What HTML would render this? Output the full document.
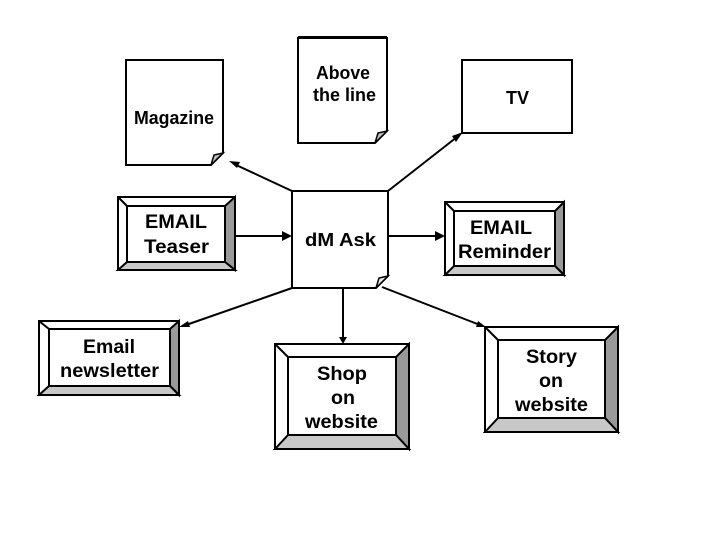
<!DOCTYPE html>
<html>
<head>
<meta charset="utf-8">
<style>
html,body{margin:0;padding:0;background:#fff;}
svg{display:block;}
text{font-family:"Liberation Sans",Arial,sans-serif;font-size:19.500px;font-weight:bold;fill:#000;}
text.s{font-size:18px;}
.l{stroke:#000;stroke-width:2;fill:none;}
.h{fill:#000;stroke:none;}
.b{stroke:#000;stroke-width:2;}
.f{fill:#fff;stroke:#000;stroke-width:2;}
</style>
</head>
<body>
<svg width="720" height="540" viewBox="0 0 720 540" xmlns="http://www.w3.org/2000/svg">
<!-- connectors -->
<path class="l" d="M292 191L234 164"/><polygon class="h" points="229,161 240,162 237,168"/>
<path class="l" d="M388 191L457 137"/><polygon class="h" points="463,132 456,142 452,136"/>
<path class="l" d="M292 288L186 325"/><polygon class="h" points="179,327 188,321 190,327"/>
<path class="l" d="M343 288V338"/><polygon class="h" points="343,344 339,337 347,337"/>
<path class="l" d="M382 287L480 325"/><polygon class="h" points="486,327 476,327 478,321"/>
<path class="l" d="M235 236H285"/><polygon class="h" points="292,236 282,231 282,241"/>
<path class="l" d="M388 236H438"/><polygon class="h" points="445,236 435,231 435,241"/>

<!-- note shapes -->
<path class="f" d="M126 60H223V153L211 165H126Z"/>
<path d="M211 165L214 155L223 153Z" fill="#c0c0c0" stroke="#000" stroke-width="1.5"/>
<path class="f" d="M298 38H387V131L375 143H298Z"/>
<path d="M298 37.500H387" stroke="#000" stroke-width="3"/>
<path d="M375 143L378 133L387 131Z" fill="#c0c0c0" stroke="#000" stroke-width="1.500"/>
<rect class="f" x="462" y="60" width="110" height="73"/>
<path class="f" d="M292 191H388V276L376 288H292Z"/>
<path d="M376 288L379 278L388 276Z" fill="#e8e8e8" stroke="#000" stroke-width="1.500"/>

<!-- bevel: Teaser -->
<g class="b">
<rect x="118" y="197" width="117" height="73" fill="#fff"/>
<polygon points="235,197 225,206 225,262 235,270" fill="#999"/>
<polygon points="118,270 127,262 225,262 235,270" fill="#c8c8c8"/>
<path d="M118 197L127 206" fill="none"/>
<rect x="127" y="206" width="98" height="56" fill="#fff"/>
</g>
<!-- bevel: Reminder -->
<g class="b">
<rect x="445" y="202" width="119" height="73" fill="#fff"/>
<polygon points="564,202 555,211 555,266 564,275" fill="#999"/>
<polygon points="445,275 454,266 555,266 564,275" fill="#c8c8c8"/>
<path d="M445 202L454 211" fill="none"/>
<rect x="454" y="211" width="101" height="55" fill="#fff"/>
</g>
<!-- bevel: Newsletter -->
<g class="b">
<rect x="39" y="321" width="140" height="74" fill="#fff"/>
<polygon points="179,321 170,329 170,386 179,395" fill="#999"/>
<polygon points="39,395 49,386 170,386 179,395" fill="#c8c8c8"/>
<path d="M39 321L49 329" fill="none"/>
<rect x="49" y="329" width="121" height="57" fill="#fff"/>
</g>
<!-- bevel: Shop -->
<g class="b">
<rect x="275" y="344" width="134" height="105" fill="#fff"/>
<polygon points="409,344 396,357 396,435 409,449" fill="#999"/>
<polygon points="275,449 288,435 396,435 409,449" fill="#c8c8c8"/>
<path d="M275 344L288 357" fill="none"/>
<rect x="288" y="357" width="108" height="78" fill="#fff"/>
</g>
<!-- bevel: Story -->
<g class="b">
<rect x="485" y="327" width="133" height="105" fill="#fff"/>
<polygon points="618,327 605,340 605,418 618,432" fill="#999"/>
<polygon points="485,432 498,418 605,418 618,432" fill="#c8c8c8"/>
<path d="M485 327L498 340" fill="none"/>
<rect x="498" y="340" width="107" height="78" fill="#fff"/>
</g>

<!-- labels -->
<text class="s" x="134" y="124" textLength="80" lengthAdjust="spacingAndGlyphs">Magazine</text>
<text class="s" x="316" y="79" textLength="54" lengthAdjust="spacingAndGlyphs">Above</text>
<text class="s" x="313" y="101" textLength="63" lengthAdjust="spacingAndGlyphs">the line</text>
<text class="s" x="506" y="104" textLength="23" lengthAdjust="spacingAndGlyphs">TV</text>
<text class="s" x="305" y="246" textLength="71" lengthAdjust="spacingAndGlyphs">dM Ask</text>
<text x="145" y="228" textLength="62" lengthAdjust="spacingAndGlyphs">EMAIL</text>
<text x="144" y="253" textLength="65" lengthAdjust="spacingAndGlyphs">Teaser</text>
<text x="470" y="234" textLength="62" lengthAdjust="spacingAndGlyphs">EMAIL</text>
<text x="458" y="258" textLength="93" lengthAdjust="spacingAndGlyphs">Reminder</text>
<text x="83" y="353" textLength="52" lengthAdjust="spacingAndGlyphs">Email</text>
<text x="60" y="377" textLength="99" lengthAdjust="spacingAndGlyphs">newsletter</text>
<text x="317" y="380" textLength="50" lengthAdjust="spacingAndGlyphs">Shop</text>
<text x="331" y="404" textLength="24" lengthAdjust="spacingAndGlyphs">on</text>
<text x="305" y="428" textLength="73" lengthAdjust="spacingAndGlyphs">website</text>
<text x="526" y="363" textLength="51" lengthAdjust="spacingAndGlyphs">Story</text>
<text x="539" y="387" textLength="24" lengthAdjust="spacingAndGlyphs">on</text>
<text x="515" y="411" textLength="73" lengthAdjust="spacingAndGlyphs">website</text>
</svg>
</body>
</html>
